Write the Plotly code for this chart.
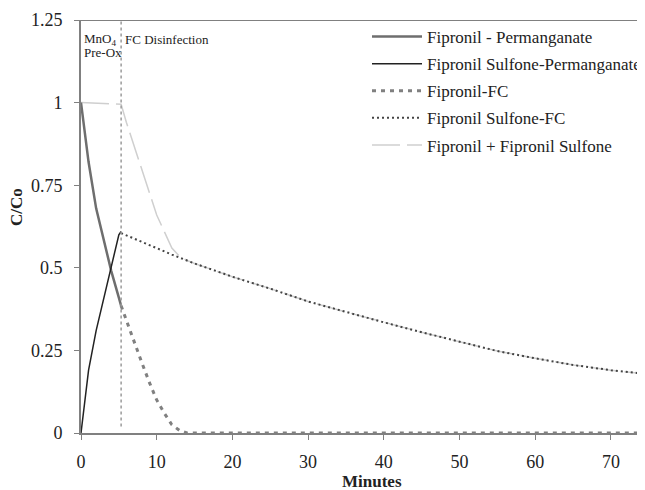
import plotly.graph_objects as go

# ---- data ----
perm_time = [0, 1, 2, 3, 4, 5, 5.3]
fipronil_perm = [1.0, 0.82, 0.68, 0.58, 0.49, 0.41, 0.385]
sulfone_perm = [0.0, 0.19, 0.31, 0.41, 0.51, 0.60, 0.61]

fc_time = [5.3, 6, 7, 8, 9, 10, 11, 12, 13, 14, 15, 20, 25, 30, 35, 40, 45, 50, 55, 60, 65, 70, 75]
fipronil_fc = [0.385, 0.34, 0.28, 0.215, 0.155, 0.10, 0.06, 0.025, 0.008, 0.0, 0.0, 0.0, 0.0,
               0.0, 0.0, 0.0, 0.0, 0.0, 0.0, 0.0, 0.0, 0.0, 0.0]
sulfone_fc = [0.605, 0.598, 0.588, 0.578, 0.568, 0.558, 0.549, 0.540, 0.531, 0.522, 0.513, 0.473,
              0.437, 0.398, 0.366, 0.335, 0.305, 0.276, 0.248, 0.226, 0.206, 0.19, 0.178]

sum_time = [0, 5.3, 6, 7, 8, 9, 10, 11, 12, 13, 14, 15, 20, 25, 30, 35, 40, 45, 50, 55, 60, 65, 70, 75]
sum_total = [1.0, 0.995, 0.94, 0.87, 0.795, 0.725, 0.66, 0.61, 0.56, 0.535, 0.522, 0.513, 0.473,
             0.437, 0.398, 0.366, 0.335, 0.305, 0.276, 0.248, 0.226, 0.206, 0.19, 0.178]

switch_time = 5.3
x_ticks = [0, 10, 20, 30, 40, 50, 60, 70]
y_ticks = [0, 0.25, 0.5, 0.75, 1, 1.25]
y_tick_labels = ["0", "0.25", "0.5", "0.75", "1", "1.25"]

SERIF = "Liberation Serif, Times New Roman, serif"

# page has an 8px body margin: figure is 8px smaller and margins shifted
PL, PT, PW, PH = 81, 20, 564, 413   # plot area in page pixels


def px_x(px):
    return (px - PL) / PW


def px_y(py):
    return (PT + PH - py) / PH


fig = go.Figure()

fig.add_trace(go.Scatter(x=sum_time, y=sum_total, mode="lines", name="Fipronil + Fipronil Sulfone",
                         line=dict(color="#cfcfcf", width=1.5, dash="28px,7px"), legendrank=5,
                         legendgroup="e"))
fig.add_trace(go.Scatter(x=perm_time, y=fipronil_perm, mode="lines", name="Fipronil - Permanganate",
                         line=dict(color="#6e6e6e", width=2.5), legendrank=1, legendgroup="a"))
fig.add_trace(go.Scatter(x=perm_time, y=sulfone_perm, mode="lines", name="Fipronil Sulfone-Permanganate",
                         line=dict(color="#222222", width=1.5), legendrank=2, legendgroup="b"))
fig.add_trace(go.Scatter(x=fc_time, y=fipronil_fc, mode="lines", name="Fipronil-FC",
                         line=dict(color="#808080", width=3, dash="4px,5px"), legendrank=3,
                         legendgroup="c"))
fig.add_trace(go.Scatter(x=fc_time, y=sulfone_fc, mode="lines", name="Fipronil Sulfone-FC",
                         line=dict(color="#444444", width=2, dash="2px,3px"), legendrank=4,
                         legendgroup="d"))

# vertical divider between pre-oxidation and disinfection
fig.add_shape(type="line", x0=switch_time, x1=switch_time, y0=0.02, y1=1.25, xref="x", yref="y",
              line=dict(color="#9a9a9a", width=1.5, dash="dot"))
# top frame line
fig.add_shape(type="line", x0=0, x1=1, y0=1.25, y1=1.25, xref="paper", yref="y",
              line=dict(color="#808080", width=2))

fig.add_annotation(x=px_x(82), y=px_y(40), xref="paper", yref="paper", text="MnO<sub>4</sub>",
                   showarrow=False, xanchor="left", yanchor="middle",
                   font=dict(family=SERIF, size=13, color="#222"))
fig.add_annotation(x=px_x(82), y=px_y(53), xref="paper", yref="paper", text="Pre-Ox",
                   showarrow=False, xanchor="left", yanchor="middle",
                   font=dict(family=SERIF, size=13, color="#222"))
fig.add_annotation(x=px_x(123), y=px_y(40), xref="paper", yref="paper", text="FC Disinfection",
                   showarrow=False, xanchor="left", yanchor="middle",
                   font=dict(family=SERIF, size=13, color="#222"))

# axis titles
fig.add_annotation(x=px_x(17), y=px_y(207), xref="paper", yref="paper",
                   text="<b>C/Co</b>", textangle=-90, showarrow=False,
                   xanchor="center", yanchor="middle",
                   font=dict(family=SERIF, size=17, color="#222"))
fig.add_annotation(x=px_x(372), y=px_y(482), xref="paper", yref="paper",
                   text="<b>Minutes</b>", showarrow=False, xanchor="center", yanchor="middle",
                   font=dict(family=SERIF, size=17, color="#222"))

fig.update_layout(
    width=637, height=482,
    margin=dict(l=PL - 8, r=0, t=PT - 8, b=482 - (PT - 8) - PH, autoexpand=False),
    plot_bgcolor="white", paper_bgcolor="white",
    font=dict(family=SERIF, color="#222"),
    legend=dict(x=px_x(367), y=px_y(19), xanchor="left", yanchor="top",
                font=dict(family=SERIF, size=17, color="#222"), bgcolor="rgba(0,0,0,0)",
                itemwidth=50, tracegroupgap=2, traceorder="grouped"),
    xaxis=dict(range=[0, 74.5], tickvals=x_ticks, showgrid=False, zeroline=False,
               showline=True, linecolor="#808080", linewidth=2, ticks="outside",
               ticklen=5, tickcolor="#808080", ticklabelstandoff=6,
               tickfont=dict(family=SERIF, size=18, color="#222")),
    yaxis=dict(range=[0, 1.25], tickvals=y_ticks, ticktext=y_tick_labels, showgrid=False,
               zeroline=False, showline=True, linecolor="#808080", linewidth=2, ticks="outside",
               ticklen=5, tickcolor="#808080", ticklabelstandoff=8,
               tickfont=dict(family=SERIF, size=18, color="#222")),
)

fig.write_html("out.html")
